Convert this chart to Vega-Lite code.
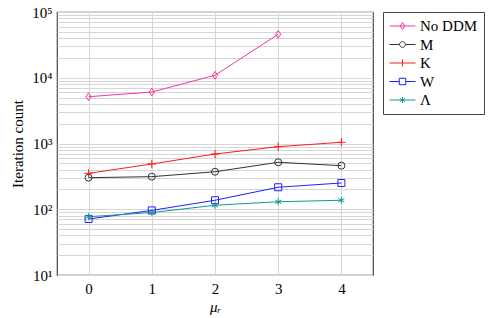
{
  "$schema": "https://vega.github.io/schema/vega-lite/v6.json",
  "autosize": "none",
  "width": 316,
  "height": 263,
  "padding": {"left": 57, "top": 12, "right": 126, "bottom": 43},
  "background": "white",
  "config": {
    "font": "'Liberation Serif', serif",
    "view": {"stroke": "#444444", "strokeWidth": 1.2},
    "axis": {"labelFont": "'Liberation Serif', serif", "titleFont": "'Liberation Serif', serif", "labelFontSize": 15, "titleFontSize": 15, "labelColor": "#000", "titleColor": "#000", "titleFontWeight": "normal", "gridColor": "#d6d6d6", "gridWidth": 1, "domain": false, "ticks": false}
  },
  "data": {
    "values": [
      {"series": "No DDM", "mu": 0, "count": 5150},
      {"series": "No DDM", "mu": 1, "count": 6070},
      {"series": "No DDM", "mu": 2, "count": 10900},
      {"series": "No DDM", "mu": 3, "count": 45800},
      {"series": "M", "mu": 0, "count": 302},
      {"series": "M", "mu": 1, "count": 313},
      {"series": "M", "mu": 2, "count": 372},
      {"series": "M", "mu": 3, "count": 518},
      {"series": "M", "mu": 4, "count": 460},
      {"series": "K", "mu": 0, "count": 352},
      {"series": "K", "mu": 1, "count": 488},
      {"series": "K", "mu": 2, "count": 692},
      {"series": "K", "mu": 3, "count": 895},
      {"series": "K", "mu": 4, "count": 1043},
      {"series": "W", "mu": 0, "count": 71},
      {"series": "W", "mu": 1, "count": 96},
      {"series": "W", "mu": 2, "count": 137},
      {"series": "W", "mu": 3, "count": 216},
      {"series": "W", "mu": 4, "count": 251},
      {"series": "Λ", "mu": 0, "count": 77},
      {"series": "Λ", "mu": 1, "count": 89},
      {"series": "Λ", "mu": 2, "count": 115},
      {"series": "Λ", "mu": 3, "count": 130},
      {"series": "Λ", "mu": 4, "count": 137}
    ]
  },
  "encoding": {
    "x": {
      "field": "mu", "type": "quantitative",
      "scale": {"domain": [-0.5, 4.5], "nice": false, "zero": false},
      "axis": {"values": [0, 1, 2, 3, 4], "title": "μᵣ", "titleFontStyle": "italic", "labelPadding": 6, "titlePadding": 3, "grid": true}
    },
    "y": {
      "field": "count", "type": "quantitative",
      "scale": {"type": "log", "domain": [10, 100000], "nice": false},
      "axis": {
        "title": "Iteration count",
        "titlePadding": 6,
        "labelPadding": 5,
        "grid": true,
        "values": [10, 20, 30, 40, 50, 60, 70, 80, 90, 100, 200, 300, 400, 500, 600, 700, 800, 900, 1000, 2000, 3000, 4000, 5000, 6000, 7000, 8000, 9000, 10000, 20000, 30000, 40000, 50000, 60000, 70000, 80000, 90000, 100000],
        "labelExpr": "datum.value == 10 ? '10¹' : datum.value == 100 ? '10²' : datum.value == 1000 ? '10³' : datum.value == 10000 ? '10⁴' : datum.value == 100000 ? '10⁵' : ''"
      }
    }
  },
  "layer": [
    {
      "mark": {"type": "line", "strokeWidth": 1},
      "encoding": {
        "color": {"field": "series", "type": "nominal", "legend": null,
          "scale": {"domain": ["No DDM", "M", "K", "W", "Λ"], "range": ["#f536a8", "#333333", "#ff1a1a", "#2020ff", "#119a90"]}}
      }
    },
    {
      "mark": {"type": "point", "filled": false, "strokeWidth": 1, "size": 49, "opacity": 1},
      "encoding": {
        "color": {"field": "series", "type": "nominal", "legend": null,
          "scale": {"domain": ["No DDM", "M", "K", "W", "Λ"], "range": ["#f536a8", "#333333", "#ff1a1a", "#2020ff", "#119a90"]}},
        "shape": {"field": "series", "type": "nominal", "legend": null,
          "scale": {"domain": ["No DDM", "M", "K", "W", "Λ"], "range": ["M0,-1.1L0.75,0L0,1.1L-0.75,0Z", "circle", "M0,-1.2V1.2M-1.2,0H1.2", "square", "M0,-1V1M-0.87,-0.5L0.87,0.5M-0.87,0.5L0.87,-0.5"]}}
      }
    },
    {
      "transform": [{"filter": "false"}],
      "mark": {"type": "point", "filled": false, "strokeWidth": 1, "opacity": 1},
      "encoding": {
        "color": {"field": "series", "type": "nominal",
          "scale": {"domain": ["No DDM", "M", "K", "W", "Λ"], "range": ["#f536a8", "#333333", "#ff1a1a", "#2020ff", "#119a90"]},
          "legend": {"title": null}},
        "shape": {"field": "series", "type": "nominal",
          "scale": {"domain": ["No DDM", "M", "K", "W", "Λ"], "range": [
            "M-1,0H1M0,-0.27L0.17,0L0,0.27L-0.17,0Z",
            "M-1,0H-0.22M0.22,0H1M0.22,0A0.22,0.22,0,1,1,-0.22,0A0.22,0.22,0,1,1,0.22,0",
            "M-1,0H1M0,-0.27V0.27",
            "M-1,0H-0.25M0.25,0H1M-0.25,-0.25H0.25V0.25H-0.25Z",
            "M-1,0H1M0,-0.23V0.23M-0.2,-0.115L0.2,0.115M-0.2,0.115L0.2,-0.115"]},
          "legend": {
            "title": null,
            "orient": "right",
            "offset": 10,
            "padding": 6,
            "strokeColor": "#444444",
            "fillColor": "white",
            "symbolSize": 676,
            "symbolStrokeWidth": 1,
            "labelFont": "'Liberation Serif', serif",
            "labelFontSize": 15,
            "labelColor": "#000",
            "labelOffset": 4,
            "clipHeight": 16,
            "rowPadding": 2.5
          }
        }
      }
    }
  ],
  "resolve": {"scale": {"color": "independent", "shape": "independent"}}
}
